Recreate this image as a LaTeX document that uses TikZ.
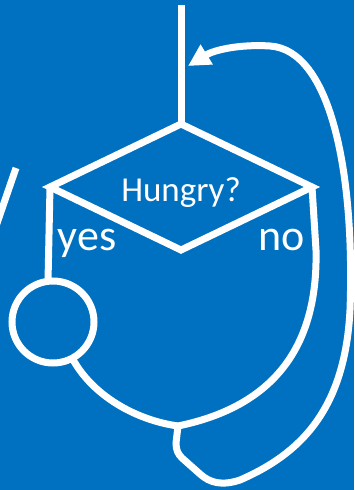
\documentclass[tikz,border=0pt]{standalone}
\usepackage{fontspec}
\setmainfont{Carlito}
\usetikzlibrary{shapes.geometric, arrows.meta}
\definecolor{slideblue}{HTML}{0070C0}
\begin{document}
\begin{tikzpicture}[x=1pt, y=-1pt,
    wire/.style={draw=white, line width=7pt},
    decision/.style={wire, diamond, aspect=2, minimum width=262pt, minimum height=126pt, inner sep=0pt, outer sep=0pt, text=white, font=\fontsize{35}{40}\selectfont, text height=28pt, text depth=0pt},
    answer/.style={text=white, font=\fontsize{44}{50}\selectfont, anchor=base, inner sep=0pt},
    action/.style={wire, circle, minimum size=82pt, inner sep=0pt, outer sep=0pt}]
    \fill[slideblue] (0,0) rectangle (354,490);
    \clip (0,0) rectangle (354,490);

    \coordinate (top) at (181,5);
    \node (hungry) [decision] at (181,187) {Hungry?};
    \node (yes) [answer] at ([xshift=37pt, yshift=-63pt]hungry.west) {yes};
    \node (no) [answer] at ([xshift=-30pt, yshift=-63pt]hungry.east) {no};
    \node (eat) [action] at (53,322) {};
    \coordinate (join) at (178,426);
    \coordinate (back) at (188,66);
    \coordinate (slashtop) at (16,168);
    \coordinate (slashend) at (-6,232);

    \draw[wire] (top) -- (hungry.north);
    \draw[wire] (hungry.west) -- (eat.97);
    \draw[wire] (eat.-62) .. controls (92,395) and (135,420) .. (join);
    \draw[wire] (hungry.east) -- (316,250) .. controls (318,340) and (280,405) .. (join);
    \draw[wire, -{Triangle[length=22pt, width=22pt]}] (join) -- (176,443)
        .. controls (176,450) and (178,454) .. (182,458) -- (200,474)
        .. controls (210,483) and (222,486) .. (240,480)
        .. controls (300,454) and (345,410) .. (350,310)
        .. controls (355,170) and (330,50) .. (270,46)
        .. controls (240,44) and (214,50) .. (back);
    \draw[wire] (slashtop) -- (slashend);
\end{tikzpicture}
\end{document}
